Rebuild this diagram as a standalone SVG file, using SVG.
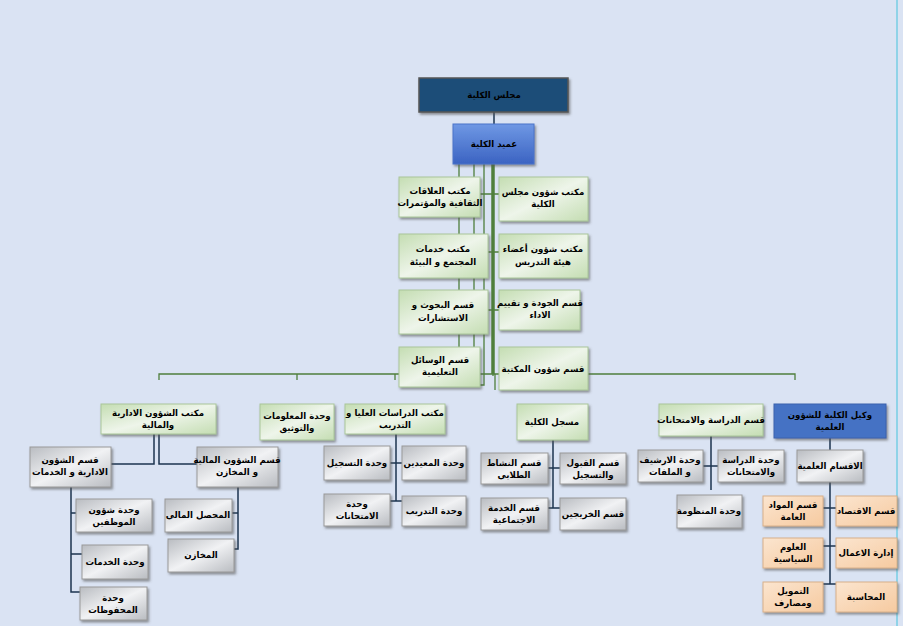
<svg xmlns="http://www.w3.org/2000/svg" width="903" height="626" viewBox="0 0 903 626">
<defs>
<linearGradient id="gG" x1="0" y1="0" x2="1" y2="1"><stop offset="0" stop-color="#c4ddb2"/><stop offset="0.5" stop-color="#eef5ea"/><stop offset="1" stop-color="#c4ddb2"/></linearGradient>
<linearGradient id="gR" x1="0" y1="0" x2="1" y2="1"><stop offset="0" stop-color="#b9bcc1"/><stop offset="0.5" stop-color="#f1f2f4"/><stop offset="1" stop-color="#b9bcc1"/></linearGradient>
<linearGradient id="gP" x1="0" y1="0" x2="1" y2="1"><stop offset="0" stop-color="#fbe5cf"/><stop offset="1" stop-color="#f6caa0"/></linearGradient>
<linearGradient id="gB" x1="0" y1="0" x2="0" y2="1"><stop offset="0" stop-color="#6f98e4"/><stop offset="1" stop-color="#3b63c2"/></linearGradient>
<filter id="sh" x="-10%" y="-10%" width="130%" height="140%"><feDropShadow dx="1.5" dy="2" stdDeviation="1" flood-color="#555" flood-opacity="0.6"/></filter>
</defs>
<style>
text{font-family:"DejaVu Sans","Noto Sans",sans-serif;font-size:8.6px;font-weight:bold;fill:#000;text-anchor:middle;direction:rtl}
.g{fill:url(#gG);stroke:#a9c59a;stroke-width:1;filter:url(#sh)}
.r{fill:url(#gR);stroke:#999;stroke-width:1;filter:url(#sh)}
.p{fill:url(#gP);stroke:#d8b08a;stroke-width:1;filter:url(#sh)}
.gl{stroke:#4f7f3c;stroke-width:1.3;fill:none}
.nl{stroke:#1c3550;stroke-width:1.5;fill:none}
</style>
<rect width="903" height="626" fill="#dae3f3"/>
<line x1="897" y1="0" x2="897" y2="626" stroke="#8fd3e8" stroke-width="2"/>
<g id="connectors">
<line class="nl" x1="494" y1="112" x2="494" y2="124"/>
<path class="gl" d="M459 164V360M474 164V360M484 164V385H480"/>
<line x1="493" y1="164" x2="493" y2="374" stroke="#4f7f3c" stroke-width="3.5"/>
<path class="gl" d="M480 194H499M488 252H499M488 310H499M493 374V376M159 380V374H795V380M297 374V380M395 374V380"/>
<path class="gl" d="M495 374V390"/>
<path class="nl" d="M154 434V464H111M159 434V464H197M71 487V592H80M71 513H76M71 554H82M238 487V549H234M238 513H232"/>
<path class="nl" d="M396 434V501M390 463H402M390 501H402"/>
<path class="nl" d="M553 440V508M548 468H560M548 508H560"/>
<path class="nl" d="M711 436V490M703 466H718"/>
<path class="nl" d="M830 438V450M830 482V584M823 508H836M823 546H836M823 584H836"/>
</g>
<g id="n-council"><rect x="419" y="78" width="149" height="34" fill="#1f4d78" stroke="#555" stroke-width="1.5" filter="url(#sh)"/><text x="494" y="98">مجلس الكلية</text></g>
<g id="n-dean"><rect x="453" y="124" width="81" height="40" fill="url(#gB)" stroke="#4a74c9" filter="url(#sh)"/><text x="494" y="147">عميد الكلية</text></g>
<g id="n1"><rect class="g" x="399" y="177" width="81" height="40"/><text x="440" y="194">مكتب العلاقات</text><text x="440" y="206">الثقافية والمؤتمرات</text></g>
<g id="n2"><rect class="g" x="499" y="177" width="89" height="44"/><text x="543" y="195">مكتب شؤون مجلس</text><text x="543" y="207">الكلية</text></g>
<g id="n3"><rect class="g" x="399" y="234" width="89" height="44"/><text x="443" y="252">مكتب خدمات</text><text x="443" y="265">المجتمع و البيئة</text></g>
<g id="n4"><rect class="g" x="499" y="234" width="89" height="44"/><text x="543" y="252">مكتب شؤون أعضاء</text><text x="543" y="265">هيئة التدريس</text></g>
<g id="n5"><rect class="g" x="399" y="290" width="89" height="44"/><text x="443" y="308">قسم البحوث و</text><text x="443" y="321">الاستشارات</text></g>
<g id="n6"><rect class="g" x="499" y="290" width="81" height="40"/><text x="540" y="306">قسم الجودة و تقييم</text><text x="540" y="318">الاداء</text></g>
<g id="n7"><rect class="g" x="399" y="347" width="81" height="40"/><text x="440" y="363">قسم الوسائل</text><text x="440" y="375">التعليمية</text></g>
<g id="n8"><rect class="g" x="499" y="347" width="89" height="43"/><text x="543" y="372">قسم شؤون المكتبة</text></g>
<g id="n9"><rect class="g" x="101" y="404" width="115" height="30"/><text x="158" y="416">مكتب الشؤون الادارية</text><text x="158" y="428">والمالية</text></g>
<g id="n10"><rect class="g" x="260" y="404" width="74" height="36"/><text x="297" y="419">وحدة المعلومات</text><text x="297" y="431">والتوثيق</text></g>
<g id="n11"><rect class="g" x="345" y="404" width="100" height="30"/><text x="395" y="416">مكتب الدراسات العليا و</text><text x="395" y="428">التدريب</text></g>
<g id="n12"><rect class="g" x="517" y="404" width="71" height="36"/><text x="552" y="425">مسجل الكلية</text></g>
<g id="n13"><rect class="g" x="659" y="404" width="104" height="32"/><text x="711" y="423">قسم الدراسة والامتحانات</text></g>
<g id="n14"><rect x="774" y="404" width="112" height="34" fill="#4472c4" stroke="#3a62ad" filter="url(#sh)"/><text x="830" y="418">وكيل الكلية للشؤون</text><text x="830" y="430">العلمية</text></g>
<g id="n15"><rect class="r" x="30" y="447" width="81" height="40"/><text x="70" y="463">قسم الشؤون</text><text x="70" y="475">الادارية و الخدمات</text></g>
<g id="n16"><rect class="r" x="197" y="447" width="81" height="40"/><text x="237" y="463">قسم الشؤون المالية</text><text x="237" y="475">و المخازن</text></g>
<g id="n17"><rect class="r" x="76" y="499" width="76" height="33"/><text x="114" y="513">وحدة شؤون</text><text x="114" y="525">الموظفين</text></g>
<g id="n18"><rect class="r" x="82" y="545" width="66" height="34"/><text x="115" y="565">وحدة الخدمات</text></g>
<g id="n19"><rect class="r" x="80" y="587" width="67" height="33"/><text x="113" y="601">وحدة</text><text x="113" y="613">المحفوظات</text></g>
<g id="n20"><rect class="r" x="165" y="499" width="67" height="33"/><text x="198" y="518">المحصل المالي</text></g>
<g id="n21"><rect class="r" x="168" y="539" width="66" height="33"/><text x="201" y="558">المخازن</text></g>
<g id="n22"><rect class="r" x="402" y="446" width="64" height="34"/><text x="434" y="466">وحدة المعيدين</text></g>
<g id="n23"><rect class="r" x="324" y="446" width="66" height="34"/><text x="357" y="466">وحدة التسجيل</text></g>
<g id="n24"><rect class="r" x="402" y="496" width="64" height="30"/><text x="434" y="514">وحدة التدريب</text></g>
<g id="n25"><rect class="r" x="324" y="494" width="66" height="32"/><text x="357" y="507">وحدة</text><text x="357" y="519">الامتحانات</text></g>
<g id="n26"><rect class="r" x="560" y="453" width="66" height="31"/><text x="593" y="466">قسم القبول</text><text x="593" y="478">والتسجيل</text></g>
<g id="n27"><rect class="r" x="481" y="453" width="67" height="31"/><text x="514" y="466">قسم النشاط</text><text x="514" y="478">الطلابي</text></g>
<g id="n28"><rect class="r" x="560" y="498" width="66" height="32"/><text x="593" y="517">قسم الخريجين</text></g>
<g id="n29"><rect class="r" x="481" y="498" width="67" height="32"/><text x="514" y="511">قسم الخدمة</text><text x="514" y="523">الاجتماعية</text></g>
<g id="n30"><rect class="r" x="718" y="450" width="66" height="32"/><text x="751" y="463">وحدة الدراسة</text><text x="751" y="475">والامتحانات</text></g>
<g id="n31"><rect class="r" x="638" y="450" width="65" height="32"/><text x="670" y="463">وحدة الارشيف</text><text x="670" y="475">و الملفات</text></g>
<g id="n32"><rect class="r" x="677" y="495" width="65" height="33"/><text x="709" y="514">وحدة المنظومة</text></g>
<g id="n33"><rect class="r" x="797" y="450" width="66" height="32"/><text x="830" y="469">الاقسام العلمية</text></g>
<g id="n34"><rect class="p" x="836" y="496" width="61" height="30"/><text x="866" y="514">قسم الاقتصاد</text></g>
<g id="n35"><rect class="p" x="763" y="496" width="60" height="30"/><text x="793" y="508">قسم المواد</text><text x="793" y="520">العامة</text></g>
<g id="n36"><rect class="p" x="836" y="538" width="61" height="30"/><text x="866" y="556">إدارة الاعمال</text></g>
<g id="n37"><rect class="p" x="763" y="538" width="60" height="30"/><text x="793" y="550">العلوم</text><text x="793" y="562">السياسية</text></g>
<g id="n38"><rect class="p" x="836" y="582" width="61" height="30"/><text x="866" y="600">المحاسبة</text></g>
<g id="n39"><rect class="p" x="763" y="582" width="60" height="30"/><text x="793" y="594">التمويل</text><text x="793" y="606">ومصارف</text></g>
</svg>
